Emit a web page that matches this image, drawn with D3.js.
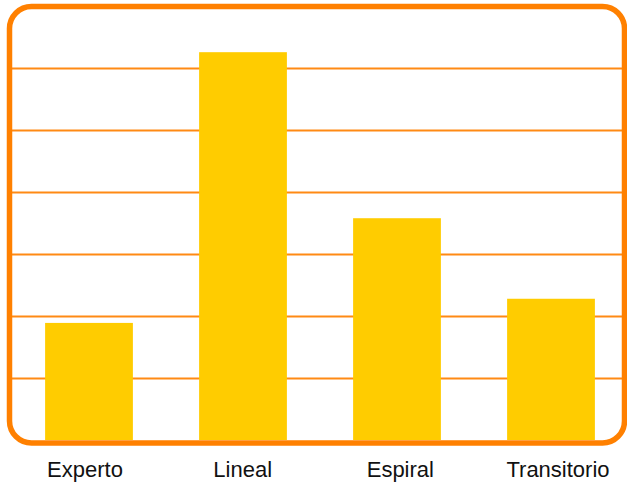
<!DOCTYPE html>
<html>
<head>
<meta charset="utf-8">
<script src="https://cdn.jsdelivr.net/npm/d3@7"></script>
<style>
  html, body { margin: 0; padding: 0; background: #fff; }
  svg { display: block; }
</style>
</head>
<body>
<div id="chart"></div>
<script>
// data
const categories = ["Experto", "Lineal", "Espiral", "Transitorio"];
const values = [1.89, 6.26, 3.58, 2.28];
const gridValues = [1, 2, 3, 4, 5, 6];

const W = 627, H = 483;
const baseY = 440;

const svg = d3.select("#chart")
  .append("svg")
  .attr("width", W)
  .attr("height", H);

// scales
const x = d3.scaleBand()
  .domain(categories)
  .range([12, 628])
  .paddingInner(0.43)
  .paddingOuter(0.215);

const xLabel = d3.scalePoint()
  .domain(categories)
  .range([85, 558]);

const y = d3.scaleLinear()
  .domain([0, 7])
  .range([baseY, baseY - 7 * 61.95]);

// gridlines
svg.append("g")
  .selectAll("line")
  .data(gridValues)
  .enter().append("line")
  .attr("x1", 10)
  .attr("x2", W)
  .attr("y1", d => Math.round(y(d)) + 0.5)
  .attr("y2", d => Math.round(y(d)) + 0.5)
  .attr("stroke", "#ff8a14")
  .attr("stroke-width", 2);

// bars
svg.append("g")
  .selectAll("rect")
  .data(values)
  .enter().append("rect")
  .attr("x", (d, i) => x(categories[i]))
  .attr("width", x.bandwidth())
  .attr("y", d => y(d))
  .attr("height", d => baseY - y(d))
  .attr("fill", "#ffcc00");

// rounded frame
svg.append("rect")
  .attr("x", 9.5)
  .attr("y", 6.5)
  .attr("width", 615)
  .attr("height", 436.5)
  .attr("rx", 22)
  .attr("ry", 22)
  .attr("fill", "none")
  .attr("stroke", "#ff8000")
  .attr("stroke-width", 5.5);

// category labels
svg.append("g")
  .selectAll("text")
  .data(categories)
  .enter().append("text")
  .attr("x", d => xLabel(d))
  .attr("y", 476.5)
  .attr("text-anchor", "middle")
  .style("font-family", "'Liberation Sans', Arial, sans-serif")
  .style("font-size", "22px")
  .style("fill", "#111")
  .text(d => d);
</script>
</body>
</html>
